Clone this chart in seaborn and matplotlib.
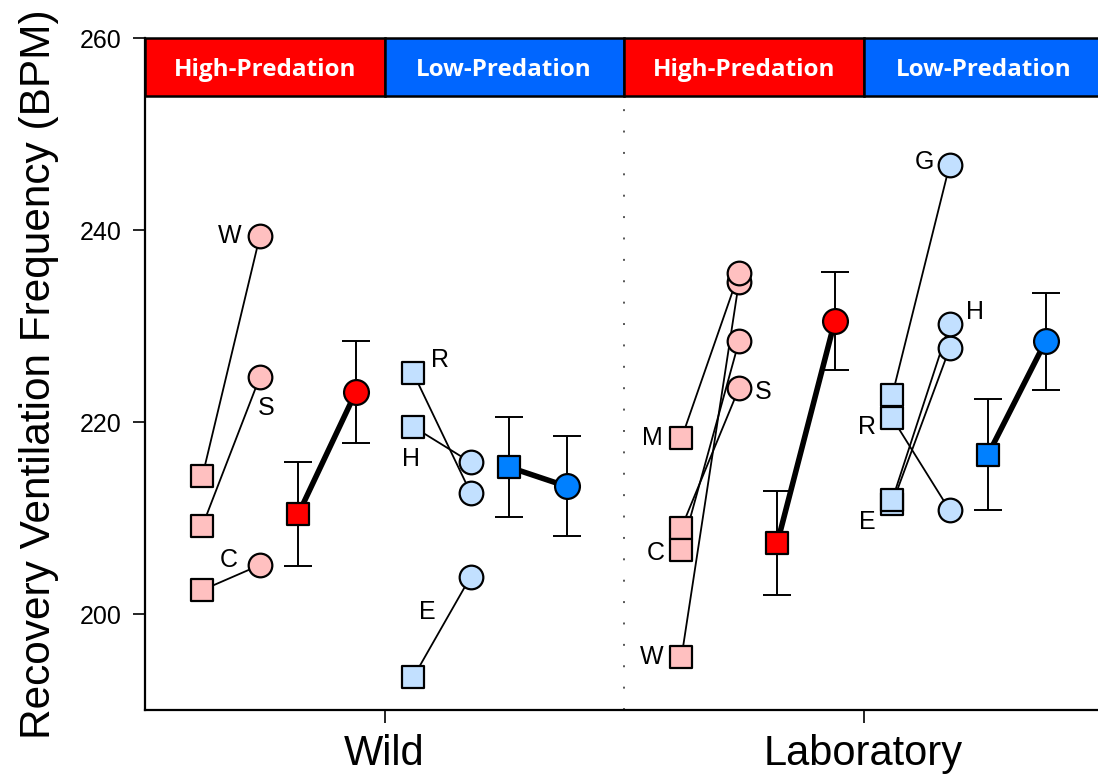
import numpy as np
import pandas as pd
import matplotlib
matplotlib.use("Agg")
import matplotlib.pyplot as plt
from matplotlib.patches import Rectangle
import seaborn as sns

# ---------------- data ----------------
environments = ["Wild", "Laboratory"]
predation = ["High-Predation", "Low-Predation"]

wild_high_fish = ["W", "S", "C"]
wild_high_pre = [214.4, 209.2, 202.5]
wild_high_post = [239.4, 224.7, 205.1]

wild_low_fish = ["R", "H", "E"]
wild_low_pre = [225.1, 219.5, 193.4]
wild_low_post = [212.6, 215.8, 203.9]

lab_high_fish = ["S", "C", "W", "M"]
lab_high_pre = [209.0, 206.7, 195.5, 218.3]
lab_high_post = [223.5, 228.4, 234.6, 235.5]

lab_low_fish = ["G", "R", "E", "H"]
lab_low_pre = [222.8, 220.4, 211.5, 211.9]
lab_low_post = [246.8, 210.8, 227.7, 230.2]

mean_pre = [210.4, 215.3, 207.4, 216.6]       # Wild-High, Wild-Low, Lab-High, Lab-Low
mean_pre_err = [5.4, 5.2, 5.45, 5.8]
mean_post = [223.1, 213.3, 230.5, 228.4]
mean_post_err = [5.3, 5.2, 5.1, 5.05]

# which point each letter is written beside, and its offset in pixels (layout)
label_anchor = {
    ("Wild", "High-Predation"): {"W": ("post", -30, 0), "S": ("post", 6, -31), "C": ("post", -31, 5)},
    ("Wild", "Low-Predation"): {"R": ("pre", 27, 13), "H": ("pre", -2, -32), "E": ("post", -43, -35)},
    ("Laboratory", "High-Predation"): {"M": ("pre", -29, 0), "C": ("pre", -26, -3), "W": ("pre", -30, 0), "S": ("post", 24, -4)},
    ("Laboratory", "Low-Predation"): {"G": ("post", -25, 3), "H": ("post", 25, 12), "R": ("pre", -25, -9), "E": ("pre", -25, -18)},
}

groups = [
    ("Wild", "High-Predation", wild_high_fish, wild_high_pre, wild_high_post),
    ("Wild", "Low-Predation", wild_low_fish, wild_low_pre, wild_low_post),
    ("Laboratory", "High-Predation", lab_high_fish, lab_high_pre, lab_high_post),
    ("Laboratory", "Low-Predation", lab_low_fish, lab_low_pre, lab_low_post),
]

# ---------------- layout ----------------
light = {"High-Predation": "#FFC0C0", "Low-Predation": "#C2E0FF"}
dark = {"High-Predation": "#FF0000", "Low-Predation": "#0080FF"}
band = {"High-Predation": "#FF0000", "Low-Predation": "#0066FF"}
within = np.array([0.0, 0.24, 0.40, 0.64])      # ind pre, ind post, mean pre, mean post
start = {"High-Predation": -0.76, "Low-Predation": 0.12}

def xpos(env, pred):
    centre = 1 + 2 * environments.index(env)
    return centre + start[pred] + within

rows = []
for env, pred, fish, pre, post in groups:
    xs = xpos(env, pred)
    for f, a, b in zip(fish, pre, post):
        uid = f"{env}-{pred}-{f}"
        rows.append(dict(uid=uid, env=env, pred=pred, fish=f, phase="pre", x=xs[0], y=a))
        rows.append(dict(uid=uid, env=env, pred=pred, fish=f, phase="post", x=xs[1], y=b))
ind = pd.DataFrame(rows)

mrows = []
for i, (env, pred, *_r) in enumerate(groups):
    xs = xpos(env, pred)
    mrows.append(dict(uid=f"{env}-{pred}", pred=pred, phase="pre", x=xs[2], y=mean_pre[i], e=mean_pre_err[i]))
    mrows.append(dict(uid=f"{env}-{pred}", pred=pred, phase="post", x=xs[3], y=mean_post[i], e=mean_post_err[i]))
mdf = pd.DataFrame(mrows)

# ---------------- figure ----------------
sns.set_theme(style="ticks")
plt.rcParams["font.family"] = ["Liberation Sans Narrow", "Liberation Sans", "DejaVu Sans"]
plt.rcParams["text.color"] = "black"

fig = plt.figure(figsize=(10.98, 7.75), dpi=100)
ax = fig.add_axes([145 / 1098, 1 - 710 / 775, 958 / 1098, 672 / 775])
ax.set_xlim(0, 4)
ax.set_ylim(190, 260)

# dotted divider
ax.plot([2, 2], [190, 254], color="#555555", lw=1.4, ls=(0, (1.0, 10.0)), zorder=1)

# individual connecting lines
sns.lineplot(data=ind, x="x", y="y", units="uid", estimator=None, sort=False,
             color="black", lw=1.3, legend=False, ax=ax, zorder=2)

# individual markers
for pred in predation:
    for phase, mk, s in [("pre", "s", 250), ("post", "o", 290)]:
        sub = ind[(ind.pred == pred) & (ind.phase == phase)]
        sns.scatterplot(data=sub, x="x", y="y", marker=mk, s=s, color=light[pred],
                        edgecolor="black", linewidth=1.6, legend=False, ax=ax, zorder=3)

# mean lines, error bars, markers
sns.lineplot(data=mdf, x="x", y="y", units="uid", estimator=None, sort=False,
             color="black", lw=4, legend=False, ax=ax, zorder=4)
ax.errorbar(mdf.x, mdf.y, yerr=mdf.e, fmt="none", ecolor="black", elinewidth=1.4,
            capsize=10, capthick=1.4, zorder=4)
for pred in predation:
    for phase, mk, s in [("pre", "s", 250), ("post", "o", 320)]:
        sub = mdf[(mdf.pred == pred) & (mdf.phase == phase)]
        sns.scatterplot(data=sub, x="x", y="y", marker=mk, s=s, color=dark[pred],
                        edgecolor="black", linewidth=1.6, legend=False, ax=ax, zorder=5)

# letters
for env, pred, fish, pre, post in groups:
    xs = xpos(env, pred)
    for f, a, b in zip(fish, pre, post):
        if f not in label_anchor[(env, pred)]:
            continue
        which, dx, dy = label_anchor[(env, pred)][f]
        x, y = (xs[0], a) if which == "pre" else (xs[1], b)
        ax.annotate(f, (x, y), xytext=(dx * 0.72, dy * 0.72), textcoords="offset points",
                    ha="center", va="center", fontsize=18, color="black",
                    family=["Liberation Sans", "DejaVu Sans"], zorder=6)

# header bands
for e_i, env in enumerate(environments):
    for p_i, pred in enumerate(predation):
        x0 = 2 * e_i + p_i
        ax.add_patch(Rectangle((x0, 254), 1, 6, facecolor=band[pred], edgecolor="black",
                               lw=1.8, zorder=7, clip_on=False))
        ax.text(x0 + 0.5, 256.7, pred, ha="center", va="center", color="white",
                fontsize=17.5, fontweight="bold", family=["Open Sans", "DejaVu Sans"], zorder=8)

# axes styling
for sp in ["top", "right"]:
    ax.spines[sp].set_visible(False)
for sp in ["left", "bottom"]:
    ax.spines[sp].set_linewidth(1.6)
    ax.spines[sp].set_color("black")
ax.set_yticks([200, 220, 240, 260])
ax.tick_params(axis="y", length=9, width=1.2, labelsize=18, pad=8, colors="black")
ax.set_xticks([1, 3])
ax.set_xticklabels(environments)
ax.tick_params(axis="x", length=9, width=1.2, labelsize=30, pad=8, colors="black")
ax.set_xlabel("")
ax.set_ylabel("Recovery Ventilation Frequency (BPM)", fontsize=30.5, labelpad=15, color="black")
ax.grid(False)

fig.savefig("out.png", dpi=100)
